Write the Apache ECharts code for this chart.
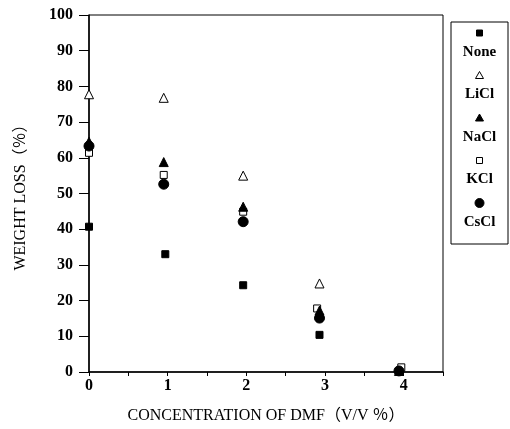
<!DOCTYPE html>
<html><head><meta charset="utf-8">
<script src="https://cdn.jsdelivr.net/npm/echarts@6/dist/echarts.min.js"></script>
<style>html,body{margin:0;padding:0;background:#fff}#c{width:510px;height:429px}</style>
</head><body><div id="c"></div>
<script>
const seriesNames = ['None', 'LiCl', 'NaCl', 'KCl', 'CsCl'];
const xNone = [0, 0.97, 1.96, 2.93, 3.94];
const yNone = [40.7, 33, 24.3, 10.4, 0.2];
const xLiCl = [0, 0.95, 1.96, 2.93];
const yLiCl = [77.8, 76.8, 55, 24.8];
const xNaCl = [0, 0.95, 1.96, 2.93, 3.94];
const yNaCl = [64.5, 58.8, 46.3, 17.2, 0.3];
const xKCl = [0, 0.95, 1.96, 2.9, 3.97];
const yKCl = [61.4, 55.2, 44.9, 17.8, 1.3];
const xCsCl = [0, 0.95, 1.96, 2.93, 3.94];
const yCsCl = [63.3, 52.6, 42.1, 15.1, 0.3];
const yTicks = [0, 10, 20, 30, 40, 50, 60, 70, 80, 90, 100];
const xTickLabels = ['0', '1', '2', '3', '4'];

const FONT = 'Liberation Serif';
const pairs = (xs, ys) => xs.map((x, i) => [x, ys[i]]);
const styles = {
  None: {symbol: 'rect', size: 7, fill: '#000'},
  LiCl: {symbol: 'triangle', size: 9, fill: '#fff'},
  NaCl: {symbol: 'triangle', size: 9, fill: '#000'},
  KCl: {symbol: 'rect', size: 7, fill: '#fff'},
  CsCl: {symbol: 'circle', size: 10, fill: '#000'}
};
const dataMap = {
  None: pairs(xNone, yNone), LiCl: pairs(xLiCl, yLiCl), NaCl: pairs(xNaCl, yNaCl),
  KCl: pairs(xKCl, yKCl), CsCl: pairs(xCsCl, yCsCl)
};
const order = ['None', 'LiCl', 'KCl', 'NaCl', 'CsCl'];
const series = order.map(n => ({
  name: n, type: 'scatter', data: dataMap[n], symbol: styles[n].symbol,
  symbolSize: styles[n].size,
  itemStyle: {color: styles[n].fill, borderColor: '#000', borderWidth: 1, opacity: 1},
  z: 3
}));

const legX = 451, legY = 22, legW = 57, legH = 222;
const legendEls = [{type: 'rect', shape: {x: legX, y: legY, width: legW, height: legH},
  style: {fill: '#fff', stroke: '#000', lineWidth: 1}}];
seriesNames.forEach((n, i) => {
  const cy = 33 + i * 42.5;
  const s = styles[n];
  const cx = legX + legW / 2;
  if (s.symbol === 'rect') {
    legendEls.push({type: 'rect', shape: {x: cx - 3, y: cy - 3, width: 6, height: 6},
      style: {fill: s.fill, stroke: '#000', lineWidth: 1}});
  } else if (s.symbol === 'triangle') {
    legendEls.push({type: 'polygon', shape: {points: [[cx, cy - 4], [cx - 4, cy + 3], [cx + 4, cy + 3]]},
      style: {fill: s.fill, stroke: '#000', lineWidth: 1}});
  } else {
    legendEls.push({type: 'circle', shape: {cx: cx, cy: cy, r: 4.5},
      style: {fill: s.fill, stroke: '#000', lineWidth: 1}});
  }
  legendEls.push({type: 'text', x: cx, y: cy + 19,
    style: {text: n, fill: '#000', font: 'bold 15px "' + FONT + '"', textAlign: 'center', textVerticalAlign: 'middle'}});
});

const chart = echarts.init(document.getElementById('c'), null, {renderer: 'canvas'});
chart.setOption({
  animation: false,
  backgroundColor: '#fff',
  grid: {left: 89, top: 15, right: 67, bottom: 57, show: true, borderColor: '#000', borderWidth: 1, backgroundColor: 'transparent'},
  xAxis: {
    type: 'value', min: 0, max: 4.5, interval: 0.5,
    name: 'CONCENTRATION OF DMF（V/V ％）', nameLocation: 'middle', nameGap: 36,
    nameTextStyle: {fontFamily: FONT + ', "Noto Sans CJK JP"', fontSize: 16, color: '#000'},
    axisLine: {show: true, lineStyle: {color: '#000', width: 1.5}},
    axisTick: {show: true, inside: false, length: 4, lineStyle: {color: '#000'}},
    axisLabel: {fontFamily: FONT, fontSize: 16, fontWeight: 'bold', color: '#000', margin: 6,
      formatter: v => (Math.abs(v - Math.round(v)) < 1e-6 && Math.round(v) < xTickLabels.length) ? xTickLabels[Math.round(v)] : ''},
    splitLine: {show: false}
  },
  yAxis: {
    type: 'value', min: 0, max: 100, interval: 10,
    name: 'WEIGHT LOSS（％）', nameLocation: 'middle', nameGap: 60,
    nameTextStyle: {fontFamily: FONT + ', "Noto Sans CJK JP"', fontSize: 16, color: '#000'},
    axisLine: {show: true, lineStyle: {color: '#000', width: 1.5}},
    axisTick: {show: true, inside: false, length: 10, lineStyle: {color: '#000'}},
    axisLabel: {fontFamily: FONT, fontSize: 16, fontWeight: 'bold', color: '#000', margin: 16,
      formatter: v => yTicks.includes(v) ? String(v) : ''},
    splitLine: {show: false}
  },
  series: series,
  graphic: legendEls
});
</script></body></html>
